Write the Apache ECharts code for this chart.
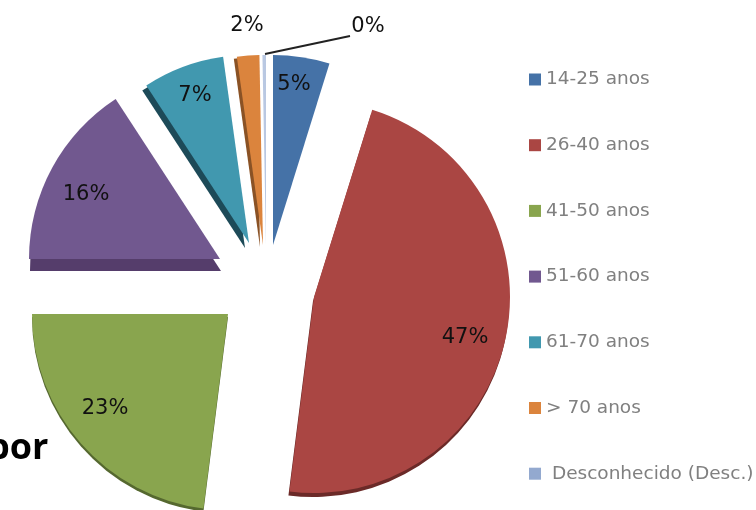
<!DOCTYPE html>
<html><head><meta charset="utf-8">
<style>html,body{margin:0;padding:0;background:#fff;overflow:hidden}
#c{width:756px;height:510px;filter:blur(0.6px)}</style>
<script src="https://cdn.jsdelivr.net/npm/echarts@6/dist/echarts.min.js"></script>
</head><body><div id="c"></div>
<script>
const categories=['14-25 anos','26-40 anos','41-50 anos','51-60 anos','61-70 anos','> 70 anos','Desconhecido (Desc.)'];
const values=[4.8,47.2,23,15.8,7,1.9,0.3];
const colors=['#4572a7','#aa4643','#89a54e','#71588f','#4198af','#db843d','#b9c8e2'];
const legendColors=['#4572a7','#aa4643','#89a54e','#71588f','#4198af','#db843d','#93a9cf'];
const depthColors=['#39608f','#6b2a28','#55682f','#553d6b','#1d4a58','#8a5225','#b9c8e2'];
const centers=[[273,245],[314,297],[228,314],[220,259],[249,243],[263,245],[266,245]];
const radii=[190,196,196,191,188,190,190];
const depth=[[0,0],[-1,4],[0,3],[1,12],[-4,5],[-3,2],[0,0]];
const labelAt=[[294,85],[465,338],[105,409],[86,195],[195,96],[247,26],[368,27]];
const leaderLine=[[265,54],[350,36],[350,36]];

const total=values.reduce((a,b)=>a+b,0);
const series=[];
let cum=0;
const blank={value:0,name:'',itemStyle:{color:'rgba(0,0,0,0)'},label:{show:false},labelLine:{show:false}};
values.forEach((v,i)=>{
  const startAngle=90-cum/total*360;
  cum+=v;
  const base={type:'pie',silent:true,animation:false,clockwise:true,startAngle,radius:[0,radii[i]],minAngle:0,avoidLabelOverlap:false,emphasis:{disabled:true}};
  if(depth[i][0]||depth[i][1]){
    series.push(Object.assign({},base,{z:1,center:[centers[i][0]+depth[i][0],centers[i][1]+depth[i][1]],
      label:{show:false},labelLine:{show:false},
      data:[{value:v,name:'d'+i,itemStyle:{color:depthColors[i]}},Object.assign({},blank,{value:total-v})]}));
  }
  const layout={x:labelAt[i][0],y:labelAt[i][1],align:'center',verticalAlign:'middle'};
  if(i===6) layout.labelLinePoints=leaderLine;
  series.push(Object.assign({},base,{z:2,center:centers[i],
    label:{show:true,position:i===6?'outside':'inside',color:'#111',fontSize:21,fontFamily:'DejaVu Sans',
      formatter:()=>Math.round(v)+'%'},
    labelLine:{show:i===6,lineStyle:{color:'#222',width:2}},
    labelLayout:layout,
    data:[{name:categories[i],value:v,itemStyle:{color:colors[i]}},Object.assign({},blank,{value:total-v})]}));
});
const chart=echarts.init(document.getElementById('c'));
chart.setOption({
  backgroundColor:'#fff',
  legend:{orient:'vertical',left:529,top:70,height:430,padding:0,itemWidth:12,itemHeight:12,itemGap:46.7,icon:'rect',selectedMode:false,
    data:categories.map((n,i)=>({name:n,itemStyle:{color:legendColors[i]}})),
    formatter:n=>n.startsWith('Desc')?' '+n:n,
    textStyle:{color:'#808080',fontSize:18.5,fontFamily:'DejaVu Sans',lineHeight:14}},
  graphic:[{type:'text',left:-13,top:431,style:{text:'por',fontSize:36,fontWeight:'bold',fontFamily:'Open Sans',fill:'#000'}}],
  series
});
</script></body></html>
